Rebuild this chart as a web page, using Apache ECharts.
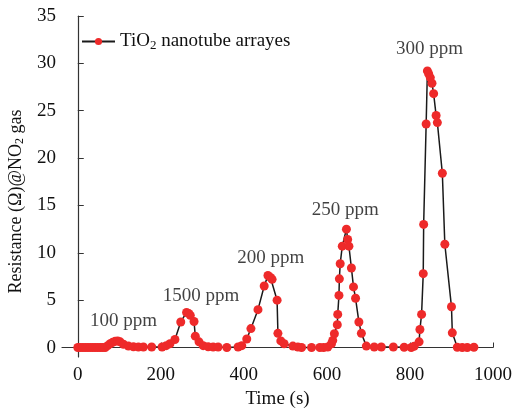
<!DOCTYPE html>
<html>
<head>
<meta charset="utf-8">
<script src="https://cdn.jsdelivr.net/npm/echarts@6/dist/echarts.min.js"></script>
<style>
  html, body { margin: 0; padding: 0; background: #fff; }
  #chart { width: 516px; height: 411px; }
</style>
</head>
<body>
<div id="chart"></div>
<script>
// time (s) and resistance
const timeS = [0, 6, 12, 18, 24, 30, 36, 42, 48, 54, 60, 66,
  72, 78, 84, 90, 96, 102, 110, 122, 134, 146, 158, 178,
  203, 213, 222, 234, 248, 262, 267, 271, 280, 283, 292, 302, 314, 326, 338, 359,
  386, 395, 407, 417, 434, 449, 458, 464, 468, 480, 482, 489, 497, 518, 530, 539,
  563, 583, 592, 602, 611, 614, 618, 625, 626, 629, 630, 632, 637, 647, 650, 653,
  659, 664, 669, 677, 683, 695, 714, 731, 760, 786, 803, 810,
  822, 824, 828, 832, 833, 839, 842, 845, 849, 853, 857, 863, 866, 878, 884, 900,
  902, 914, 926, 938, 954];
const resistance = [0, 0, 0, 0, 0, 0, 0, 0, 0, 0, 0, 0,
  0.2, 0.4, 0.55, 0.65, 0.7, 0.6, 0.35, 0.15, 0.08, 0.05, 0.05, 0.05,
  0.05, 0.2, 0.4, 0.85, 2.7, 3.7, 3.6, 3.4, 2.75, 1.2, 0.6, 0.2, 0.08, 0.05, 0.05, 0,
  0.05, 0.2, 0.9, 2.0, 4.0, 6.5, 7.6, 7.4, 7.2, 5.0, 1.5, 0.7, 0.4, 0.15, 0.05, 0,
  0, 0, 0, 0.05, 0.4, 0.75, 1.45, 2.4, 3.5, 5.5, 7.25, 8.85, 10.7, 12.5, 11.4, 10.7,
  8.4, 6.4, 5.2, 2.7, 1.5, 0.15, 0.05, 0.05, 0.05, 0.03, 0, 0.14,
  0.6, 1.9, 3.5, 7.8, 13.0, 23.6, 29.2, 28.9, 28.5, 27.9, 26.8, 24.5, 23.75, 18.4, 10.9, 4.3,
  1.55, 0.03, 0, 0, 0.03];

// concentration labels
const labelText = ['100 ppm', '1500 ppm', '200 ppm', '250 ppm', '300 ppm'];
const labelX = [110, 297, 465, 644, 847];
const labelY = [2.85, 5.4, 9.4, 14.5, 31.5];

const xTicks = [0, 200, 400, 600, 800, 1000];
const yTicks = [0, 5, 10, 15, 20, 25, 30, 35];

const FONT = 'Liberation Serif';
const INK = '#111';

const chart = echarts.init(document.getElementById('chart'));

const lineData = timeS.map((t, i) => [t, resistance[i]]);
const labelData = labelText.map((s, i) => [labelX[i], labelY[i], s]);

const option = {
  backgroundColor: '#fff',
  animation: false,
  grid: { left: 62, right: 23, top: 16, bottom: 54, outerBoundsMode: 'none' },
  legend: {
    data: ['TiO2 nanotube arrayes'],
    left: 76,
    top: 27,
    itemWidth: 33,
    itemHeight: 9,
    itemGap: 5,
    formatter: () => '{a|TiO}{s|2}{a| nanotube arrayes}',
    textStyle: {
      color: INK,
      rich: {
        a: { fontFamily: FONT, fontSize: 19, color: INK },
        s: { fontFamily: FONT, fontSize: 13, color: INK, padding: [9, 0, 0, 0] }
      }
    }
  },
  xAxis: {
    type: 'value',
    min: -38,
    max: 1000,
    name: 'Time (s)',
    nameLocation: 'middle',
    nameGap: 33,
    nameTextStyle: { fontFamily: FONT, fontSize: 19, color: INK },
    axisLine: { lineStyle: { color: '#333', width: 1.2 } },
    axisTick: { inside: true, length: 5, customValues: xTicks, lineStyle: { color: '#333' } },
    axisLabel: {
      customValues: xTicks,
      formatter: v => String(v),
      fontFamily: FONT, fontSize: 19, color: INK, margin: 9
    },
    splitLine: { show: false }
  },
  yAxis: {
    type: 'value',
    min: -1,
    max: 35,
    name: '{a|Resistance (Ω)@NO}{s|2}{a| gas}',
    nameLocation: 'middle',
    nameGap: 27,
    nameRotate: 90,
    nameTextStyle: {
      color: INK,
      padding: [0, 30, 0, 0],
      rich: {
        a: { fontFamily: FONT, fontSize: 18, color: INK },
        s: { fontFamily: FONT, fontSize: 12, color: INK, padding: [8, 0, 0, 0] }
      }
    },
    axisLine: { show: true, lineStyle: { color: '#333', width: 1.2 } },
    axisTick: { show: true, inside: true, length: 6, customValues: yTicks, lineStyle: { color: '#333' } },
    axisLabel: {
      customValues: yTicks,
      formatter: v => String(v),
      fontFamily: FONT, fontSize: 19, color: INK, margin: 6
    },
    splitLine: { show: false }
  },
  series: [
    {
      name: 'TiO2 nanotube arrayes',
      type: 'line',
      data: lineData,
      symbol: 'circle',
      symbolSize: 9,
      showAllSymbol: true,
      lineStyle: { color: '#1a1a1a', width: 1.5 },
      itemStyle: { color: '#ee2a2a', borderWidth: 0 },
      z: 3
    },
    {
      name: 'labels',
      type: 'scatter',
      data: labelData,
      symbolSize: 0,
      silent: true,
      label: {
        show: true,
        position: 'inside',
        formatter: p => p.data[2],
        fontFamily: FONT,
        fontSize: 19,
        color: INK
      }
    }
  ]
};

chart.setOption(option);
</script>
</body>
</html>
